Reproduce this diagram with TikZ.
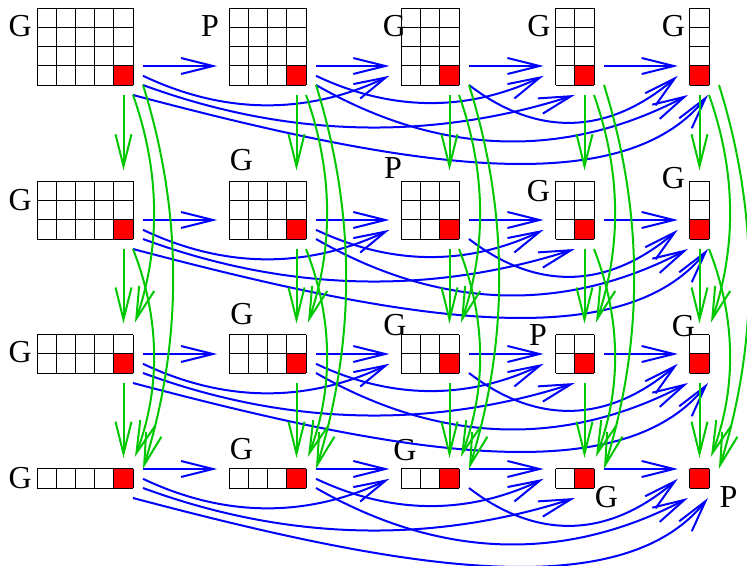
\documentclass[tikz,border=0pt]{standalone}
\usepackage{fontspec}
\setmainfont{Liberation Serif}
\usetikzlibrary{arrows.meta}
\definecolor{bl}{RGB}{0,0,255}
\definecolor{gr}{RGB}{0,200,0}
\begin{document}
\begin{tikzpicture}[x=0.75pt,y=-0.75pt,
  gridline/.style={draw=black,line width=0.75pt},
  matbox/.style={inner sep=0pt,outer sep=0pt,anchor=south east},
  lbl/.style={font=\fontsize{24}{24}\selectfont,inner sep=0pt},
  barr/.style={draw=bl,line width=1.5pt,-{Straight Barb[length=24pt,width=12pt]}},
  garr/.style={draw=gr,line width=1.5pt,-{Straight Barb[length=24pt,width=12pt]}}]
\useasboundingbox (0,0) rectangle (747,565);
\def\Rl{{133,306,459,594,709}}
\def\Bl{{85,239,373,488}}
% matrices
\foreach \i in {0,...,3}{
  \foreach \j in {0,...,4}{
    \pgfmathsetmacro\R{\Rl[\j]}
    \pgfmathsetmacro\B{\Bl[\i]}
    \pgfmathsetmacro\w{(5-\j)*19.2}
    \pgfmathsetmacro\h{(4-\i)*19.2}
    \pgfmathsetmacro\L{\R-\w}
    \pgfmathsetmacro\T{\B-\h}
    \pgfmathsetmacro\wpt{\w*0.75}
    \pgfmathsetmacro\hpt{\h*0.75}
    \pgfmathtruncatemacro\nx{5-\j}
    \pgfmathtruncatemacro\ny{4-\i}
    \node[matbox,minimum width=\wpt pt,minimum height=\hpt pt] (m-\i-\j) at (\R,\B) {};
    \fill[red] (\R-19.2,\B-19.2) rectangle (\R,\B);
    \foreach \k in {0,...,\nx} \draw[gridline] (\L+\k*19.2,\T) -- (\L+\k*19.2,\B);
    \foreach \k in {0,...,\ny} \draw[gridline] (\L,\T+\k*19.2) -- (\R,\T+\k*19.2);
  }
}
% labels
\node[lbl] (l-0-0) at (20.3,26.2) {G};
\node[lbl] (l-0-1) at (210,26.5) {P};
\node[lbl] (l-0-2) at (394.5,26.2) {G};
\node[lbl] (l-0-3) at (539,26.2) {G};
\node[lbl] (l-0-4) at (673.5,26.2) {G};
\node[lbl] (l-1-0) at (20.3,200) {G};
\node[lbl] (l-1-1) at (241.5,160) {G};
\node[lbl] (l-1-2) at (393,168.5) {P};
\node[lbl] (l-1-3) at (538.5,191) {G};
\node[lbl] (l-1-4) at (673.5,178.5) {G};
\node[lbl] (l-2-0) at (20.3,352.5) {G};
\node[lbl] (l-2-1) at (242,314) {G};
\node[lbl] (l-2-2) at (395,325) {G};
\node[lbl] (l-2-3) at (538,335) {P};
\node[lbl] (l-2-4) at (683.5,326) {G};
\node[lbl] (l-3-0) at (20.3,478) {G};
\node[lbl] (l-3-1) at (241.5,449) {G};
\node[lbl] (l-3-2) at (405,450) {G};
\node[lbl] (l-3-3) at (606.5,497.5) {G};
\node[lbl] (l-3-4) at (728.5,497) {P};
% blue arrows along rows
\foreach \i in {0,...,3}{
  \foreach \j [evaluate=\j as \k using int(\j+1)] in {0,1,2,3}
    \draw[barr] ([shift={(10,-19)}]m-\i-\j.south east) -- ([shift={(-12,-19)}]m-\i-\k.south west);
  \draw[barr] ([shift={(10,-9.2)}]m-\i-0.south east) .. controls +(82,39) and +(-82,39) .. ([shift={(-12,-9.2)}]m-\i-2.south west);
  \draw[barr] ([shift={(10,-9.2)}]m-\i-1.south east) .. controls +(76,36) and +(-76,36) .. ([shift={(-12,-9.2)}]m-\i-3.south west);
  \draw[barr] ([shift={(10,0)}]m-\i-2.south east) .. controls +(69,53) and +(-69,59) .. ([shift={(-12,-9.2)}]m-\i-4.south west);
  \draw[barr] ([shift={(10,0)}]m-\i-0.south east) .. controls +(144,53) and +(-144,46) .. ([shift={(-19.2,10)}]m-\i-3.south east);
  \draw[barr] ([shift={(10,0)}]m-\i-1.south east) .. controls +(124,71) and +(-124,65) .. ([shift={(-21,10)}]m-\i-4.south east);
  \draw[barr] ([shift={(0,10)}]m-\i-0.south east) .. controls +(250,66) and +(-90,113) .. ([shift={(-1,10)}]m-\i-4.south east);
}
% green arrows along columns
\foreach \j in {0,...,4}{
  \foreach \i [evaluate=\i as \k using int(\i+1)] in {0,1,2}
    \draw[garr] ([shift={(-9.5,10)}]m-\i-\j.south east) -- ([shift={(-9.5,-11)}]m-\k-\j.north east);
  \draw[garr] ([shift={(0,10)}]m-0-\j.south east) .. controls +(27,76) and +(26,-76) .. ([shift={(2,-12)}]m-2-\j.north east);
  \draw[garr] ([shift={(0,10)}]m-1-\j.south east) .. controls +(27,69) and +(26,-69) .. ([shift={(2,-12)}]m-3-\j.north east);
  \draw[garr] ([shift={(10,0)}]m-0-\j.south east) .. controls +(40,128) and +(40,-128) .. ([shift={(10,0)}]m-3-\j.north east);
}
\end{tikzpicture}
\end{document}
